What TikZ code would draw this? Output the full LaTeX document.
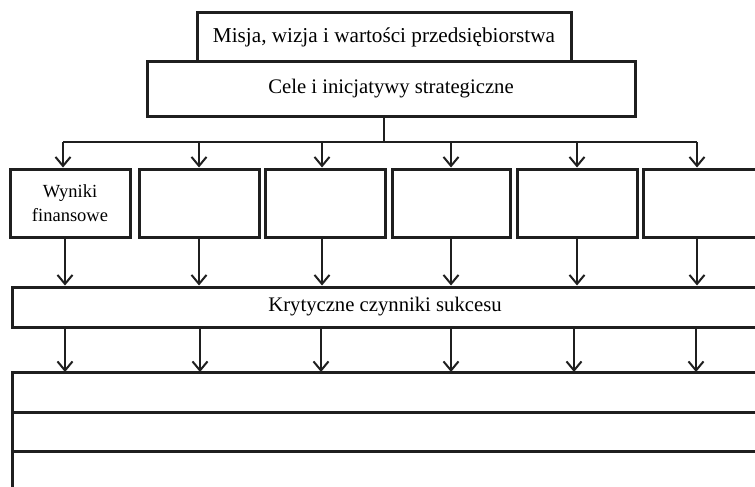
\documentclass[tikz,border=0pt]{standalone}
\usepackage{fontspec}
\setmainfont{Liberation Serif}
\usetikzlibrary{arrows.meta}
\begin{document}
\begin{tikzpicture}[x=1pt,y=-1pt,
  boxstyle/.style={draw=black!88, line width=3pt, rectangle, inner sep=0pt, align=center, font=\fontsize{20.7}{24}\selectfont},
  smallbox/.style={boxstyle, font=\fontsize{18.5}{24}\selectfont},
  conn/.style={draw=black!88, line width=2pt},
  arr/.style={conn, -{Straight Barb[length=9pt,width=15pt,line width=2pt]}},
  rowline/.style={draw=black!88, line width=3pt}]
\useasboundingbox (0,0) rectangle (755,487);
\clip (0,0) rectangle (755,487);
\fill[white] (0,0) rectangle (755,487);
% top boxes
\node[boxstyle, font=\fontsize{21.2}{24}\selectfont, minimum width=374pt, minimum height=49pt] (misja) at (384,37.5) {Misja, wizja i wartości przedsiębiorstwa};
\node[boxstyle, fill=white, minimum width=488pt, minimum height=54pt] (cele) at (391,89) {Cele i inicjatywy strategiczne};
% row of boxes
\node[smallbox, minimum width=120pt, minimum height=68pt] (b1) at (70,203) {Wyniki\\finansowe};
\node[boxstyle, minimum width=120pt, minimum height=68pt] (b2) at (199,203) {};
\node[boxstyle, minimum width=120pt, minimum height=68pt] (b3) at (325,203) {};
\node[boxstyle, minimum width=118pt, minimum height=68pt] (b4) at (451,203) {};
\node[boxstyle, minimum width=120pt, minimum height=68pt] (b5) at (577,203) {};
\node[boxstyle, minimum width=120pt, minimum height=68pt] (b6) at (703,203) {};
% critical factors
\node[boxstyle, minimum width=746pt, minimum height=40pt] (kcs) at (385,307) {Krytyczne czynniki sukcesu};
% bottom frame
\coordinate (f0) at (12,372);
\coordinate (f1) at (12,412);
\coordinate (f2) at (12,451);
\coordinate (fb) at (12,492);
\coordinate (r0) at (762,372);
\coordinate (r1) at (762,412);
\coordinate (r2) at (762,451);
\draw[rowline] (r0) -- (f0) -- (fb);
\draw[rowline] (f1) -- (r1);
\draw[rowline] (f2) -- (r2);
% distribution bus
\coordinate (bus) at (384,142);
\coordinate (busL) at (63,142);
\coordinate (busR) at (697,142);
\draw[conn] (cele.south -| bus) -- (bus);
\draw[conn] (busL) -- (busR);
% top arrows
\foreach \xx/\bb in {63/b1,199/b2,322/b3,451/b4,577/b5,697/b6}{
  \draw[arr] (\xx,142) -- (\xx,0 |- \bb.north);
}
% middle arrows
\foreach \xx/\bb in {65/b1,199/b2,322/b3,451/b4,577/b5,697/b6}{
  \draw[arr] (\xx,0 |- \bb.south) -- (\xx,0 |- kcs.north);
}
% bottom arrows
\foreach \xx in {65,200,321,451,574,696}{
  \draw[arr] (\xx,0 |- kcs.south) -- (\xx,0 |- f0);
}
\end{tikzpicture}
\end{document}
